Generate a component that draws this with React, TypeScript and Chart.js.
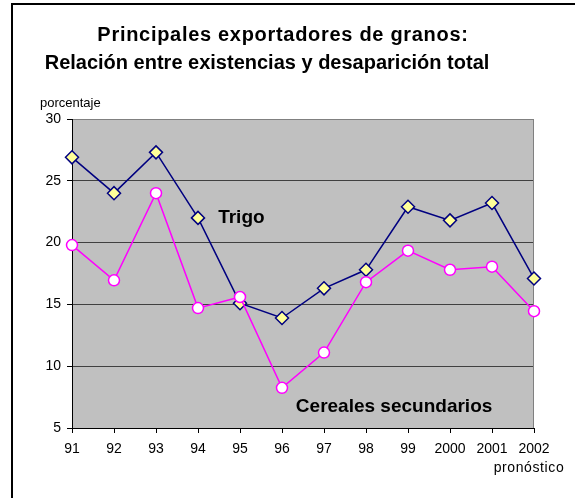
import React, { useEffect, useRef } from "react";
import { Chart, registerables } from "chart.js";

Chart.register(...registerables);

const categories = ["91", "92", "93", "94", "95", "96", "97", "98", "99", "2000", "2001", "2002"];
const trigo = [26.9, 24.0, 27.3, 22.0, 15.1, 13.9, 16.3, 17.8, 22.9, 21.8, 23.2, 17.1];
const cereales = [19.8, 16.95, 24.0, 14.7, 15.6, 8.25, 11.1, 16.8, 19.35, 17.8, 18.05, 14.45];
const titleLines = ["Principales exportadores de granos:", "Relación entre existencias y desaparición total"];
const yTicks = { min: 5, max: 30, step: 5 };
const yAxisLabel = "porcentaje";
const xNote = "pronóstico";
const trigoLabel = "Trigo";
const cerealesLabel = "Cereales secundarios";

const FONT = "'Liberation Sans', Arial, sans-serif";

const decorPlugin = {
  id: "decor",
  beforeDraw(chart: any) {
    const { ctx, chartArea } = chart;
    ctx.save();
    ctx.fillStyle = "#ffffff";
    ctx.fillRect(0, 0, chart.width, chart.height);
    // frame
    ctx.fillStyle = "#000000";
    ctx.fillRect(11, 3, 2, chart.height - 3);
    ctx.fillRect(11, 3, chart.width - 11, 2);
    // plot bg
    ctx.fillStyle = "#C0C0C0";
    ctx.fillRect(chartArea.left, chartArea.top, chartArea.right - chartArea.left, chartArea.bottom - chartArea.top);
    // title
    ctx.fillStyle = "#000000";
    ctx.font = `bold 20px ${FONT}`;
    ctx.textAlign = "center";
    ctx.textBaseline = "middle";
    ctx.letterSpacing = "0.7px";
    ctx.fillText(titleLines[0], 283, 35);
    ctx.letterSpacing = "0px";
    ctx.fillText(titleLines[1], 267, 63);
    // y axis title
    ctx.font = `13px ${FONT}`;
    ctx.textAlign = "left";
    ctx.fillText(yAxisLabel, chartArea.left - 32, chartArea.top - 16);
    ctx.restore();
  },
  beforeDatasetsDraw(chart: any) {
    const { ctx, chartArea } = chart;
    ctx.save();
    ctx.strokeStyle = "#808080";
    ctx.lineWidth = 1;
    ctx.beginPath();
    ctx.moveTo(chartArea.right - 0.5, chartArea.top);
    ctx.lineTo(chartArea.right - 0.5, chartArea.bottom);
    ctx.stroke();
    ctx.restore();
  },
  afterDraw(chart: any) {
    const { ctx } = chart;
    const x = chart.scales.x;
    const y = chart.scales.y;
    ctx.save();
    ctx.fillStyle = "#000000";
    ctx.textBaseline = "middle";
    ctx.font = `bold 19px ${FONT}`;
    ctx.textAlign = "left";
    ctx.fillText(trigoLabel, x.getPixelForValue(3.48), y.getPixelForValue(22.0));
    ctx.fillText(cerealesLabel, x.getPixelForValue(5.33), y.getPixelForValue(6.7));
    ctx.font = `14px ${FONT}`;
    ctx.textAlign = "center";
    ctx.letterSpacing = "0.6px";
    ctx.fillText(xNote, x.getPixelForValue(11) - 5, 468);
    ctx.restore();
  },
};

export default function App() {
  const ref = useRef<HTMLCanvasElement>(null);
  useEffect(() => {
    if (!ref.current) return;
    const chart = new Chart(ref.current, {
      type: "line",
      data: {
        labels: categories,
        datasets: [
          {
            label: cerealesLabel,
            data: cereales,
            order: 0,
            borderColor: "#FF00FF",
            borderWidth: 1.5,
            pointStyle: "circle",
            pointRadius: 5.5,
            pointBorderWidth: 1.5,
            pointBackgroundColor: "#FFFFFF",
            pointBorderColor: "#FF00FF",
            tension: 0,
          },
          {
            label: trigoLabel,
            data: trigo,
            order: 1,
            borderColor: "#000080",
            borderWidth: 1.5,
            pointStyle: "rectRot",
            pointRadius: 6.5,
            pointBorderWidth: 1.5,
            pointBackgroundColor: "#FFFF99",
            pointBorderColor: "#000080",
            tension: 0,
          },
        ],
      },
      options: {
        responsive: false,
        animation: false,
        devicePixelRatio: 1,
        layout: { padding: { left: 0, right: 41, top: 119, bottom: 0 } },
        plugins: {
          legend: { display: false },
          title: { display: false },
          tooltip: { enabled: false },
        },
        scales: {
          x: {
            offset: false,
            grid: {
              display: true,
              drawOnChartArea: false,
              drawTicks: true,
              tickLength: 5,
              tickColor: "#000000",
              offset: false,
            },
            border: { display: true, color: "#000000", width: 1 },
            ticks: {
              color: "#000000",
              font: { family: FONT, size: 14 },
              padding: 8,
              maxRotation: 0,
              autoSkip: false,
            },
            afterFit(scale: any) {
              scale.height = 70;
            },
          },
          y: {
            min: yTicks.min,
            max: yTicks.max,
            ticks: {
              stepSize: yTicks.step,
              color: "#000000",
              font: { family: FONT, size: 14 },
              padding: 6,
            },
            grid: {
              color: (c: any) => (c.tick && c.tick.value === yTicks.max ? "#808080" : "#404040"),
              tickColor: "#000000",
              tickLength: 5,
              lineWidth: 1,
            },
            border: { display: true, color: "#000000", width: 1 },
            afterFit(scale: any) {
              scale.width = 72;
            },
          },
        },
      },
      plugins: [decorPlugin],
    });
    return () => chart.destroy();
  }, []);
  return (
    <canvas
      ref={ref}
      width={575}
      height={498}
      style={{ position: "fixed", left: 0, top: 0, display: "block", width: 575, height: 498 }}
    />
  );
}
